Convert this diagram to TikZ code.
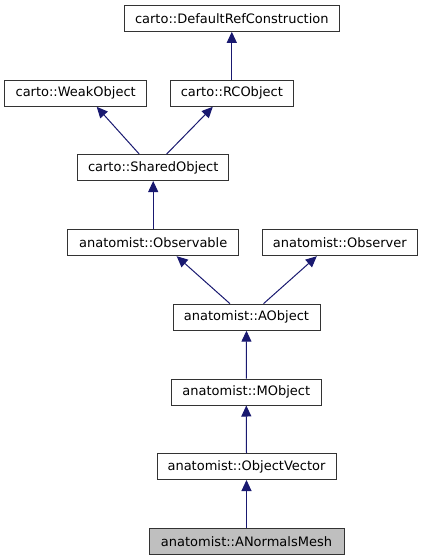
\documentclass[tikz,border=0pt]{standalone}
\usepackage{fontspec}
\setmainfont{DejaVu Sans}
\usetikzlibrary{arrows.meta}
\definecolor{edgecol}{HTML}{191970}
\definecolor{meshfill}{HTML}{BFBFBF}
\tikzset{
  cls/.style={draw=black!80, line width=1pt, fill=white, inner sep=0pt,
    minimum height=26pt, font=\fontsize{13}{15}\selectfont, anchor=center},
  inh/.style={draw=edgecol, line width=1pt,
    -{Triangle[length=11pt,width=10pt]}, color=edgecol},
}
\begin{document}
\begin{tikzpicture}[x=1pt,y=-1pt]
\useasboundingbox (0,0) rectangle (423,560);
\node[cls, minimum width=215pt] (drc) at (231.8,18.3) {carto::DefaultRefConstruction};
\node[cls, minimum width=142pt] (weak) at (75.7,93.3) {carto::WeakObject};
\node[cls, minimum width=123pt] (rc) at (231.8,93.3) {carto::RCObject};
\node[cls, minimum width=151pt] (shared) at (153.2,167.5) {carto::SharedObject};
\node[cls, minimum width=171pt] (obsable) at (153.2,242.7) {anatomist::Observable};
\node[cls, minimum width=155pt] (obser) at (339.8,242.7) {anatomist::Observer};
\node[cls, minimum width=147pt] (aobj) at (246.5,317.2) {anatomist::AObject};
\node[cls, minimum width=150pt] (mobj) at (246.3,392) {anatomist::MObject};
\node[cls, minimum width=179pt] (ovec) at (246.5,466.5) {anatomist::ObjectVector};
\node[cls, minimum width=195pt, fill=meshfill] (mesh) at (246.5,541.3) {anatomist::ANormalsMesh};

\draw[inh] (rc.north) -- (drc.south);
\draw[inh] ([xshift=-14pt]shared.north) -- ([xshift=21pt]weak.south);
\draw[inh] ([xshift=13.5pt]shared.north) -- ([xshift=-19pt]rc.south);
\draw[inh] (obsable.north) -- (shared.south);
\draw[inh] ([xshift=-16.5pt]aobj.north) -- ([xshift=23.5pt]obsable.south);
\draw[inh] ([xshift=17pt]aobj.north) -- ([xshift=-23pt]obser.south);
\draw[inh] (mobj.north) -- (aobj.south);
\draw[inh] (ovec.north) -- (mobj.south);
\draw[inh] (mesh.north) -- (ovec.south);
\end{tikzpicture}
\end{document}
